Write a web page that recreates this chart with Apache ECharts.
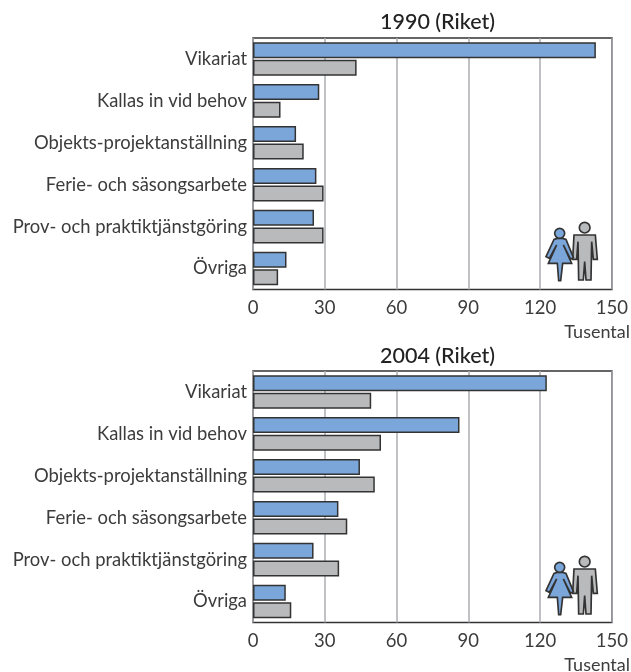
<!DOCTYPE html>
<html>
<head>
<meta charset="utf-8">
<style>
  html, body { margin: 0; padding: 0; background: #fff; }
  #chart { width: 631px; height: 672px; }
</style>
</head>
<body>
<div id="chart"></div>
<script src="https://cdn.jsdelivr.net/npm/echarts@6/dist/echarts.min.js"></script>
<script>
const categories = ['Vikariat', 'Kallas in vid behov', 'Objekts-projektanställning', 'Ferie- och säsongsarbete', 'Prov- och praktiktjänstgöring', 'Övriga']
const xTicks = [0, 30, 60, 90, 120, 150]

const women1990 = [143.3, 27.7, 18, 26.5, 25.5, 14]
const men1990 = [43.3, 11.5, 21.2, 29.5, 29.5, 10.5]
const women2004 = [122.8, 86.3, 44.7, 35.7, 25.3, 13.7]
const men2004 = [49.4, 53.5, 50.9, 39.4, 36, 16]

const FONT = 'Lato, sans-serif'
const TEXT = '#3c3c3c'
const BLUE = '#7ba6da'
const GREY = '#b9babc'
const EDGE = '#333'

const chart = echarts.init(document.getElementById('chart'))

const makeXAxis = (gridIndex) => ({
  type: 'value',
  gridIndex,
  min: 0,
  max: 150,
  interval: 30,
  axisLine: { show: false },
  axisTick: { show: false },
  axisLabel: {
    color: TEXT,
    fontFamily: FONT,
    fontSize: 18.5,
    margin: 9,
    formatter: (v) => (xTicks.includes(v) ? String(v) : '')
  },
  splitLine: { lineStyle: { color: '#aaadb0', width: 1.5 } }
})

const makeYAxis = (gridIndex) => ({
  type: 'category',
  gridIndex,
  inverse: true,
  data: categories,
  axisLine: { show: false },
  axisTick: { show: false },
  axisLabel: { color: TEXT, fontFamily: FONT, fontSize: 18.4, margin: 6 }
})

const makeBar = (name, data, color, axisIndex) => ({
  name,
  type: 'bar',
  xAxisIndex: axisIndex,
  yAxisIndex: axisIndex,
  data,
  barWidth: 16,
  barGap: '10%',
  itemStyle: { color, borderColor: EDGE, borderWidth: 1.5 },
  silent: true
})

// figurerna ritas i egna koordinater, skalas ner med 1/3
const womanPoints = [[232, 115], [248, 115], [258, 118], [280, 172], [272, 178], [250, 135], [275, 190], [248, 190], [242, 242], [236, 242], [232, 190], [205, 190], [230, 135], [208, 175], [198, 170], [222, 118]]
const manPoints = [[282, 105], [346, 105], [352, 178], [340, 178], [335, 125], [333, 240], [318, 240], [314, 185], [310, 240], [296, 240], [294, 125], [290, 178], [278, 178]]

const makeIcon = (y) => ({
  type: 'group',
  x: 480,
  y,
  scaleX: 1 / 3,
  scaleY: 1 / 3,
  silent: true,
  children: [
    { type: 'polygon', shape: { points: manPoints }, style: { fill: GREY, stroke: EDGE, lineWidth: 5 } },
    { type: 'circle', shape: { cx: 314, cy: 83, r: 16 }, style: { fill: GREY, stroke: EDGE, lineWidth: 5 } },
    { type: 'polygon', shape: { points: womanPoints }, style: { fill: BLUE, stroke: EDGE, lineWidth: 5 } },
    { type: 'circle', shape: { cx: 239, cy: 100, r: 15 }, style: { fill: BLUE, stroke: EDGE, lineWidth: 5 } }
  ]
})

const makeNote = (y) => ({
  type: 'text',
  right: 1,
  top: y,
  style: { text: 'Tusental', fill: TEXT, font: '18px ' + FONT },
  silent: true
})

const titleStyle = { color: '#222', fontFamily: FONT, fontSize: 21.5, fontWeight: 500 }

chart.setOption({
  animation: false,
  title: [
    { text: '1990 (Riket)', left: 432.5, top: 6, textAlign: 'center', textStyle: titleStyle },
    { text: '2004 (Riket)', left: 432.5, top: 340, textAlign: 'center', textStyle: titleStyle }
  ],
  grid: [
    { left: 253, right: 16.5, top: 38, height: 251.5, show: true, borderColor: EDGE, borderWidth: 1.5, backgroundColor: 'transparent' },
    { left: 253, right: 16.5, top: 371, height: 251.5, show: true, borderColor: EDGE, borderWidth: 1.5, backgroundColor: 'transparent' }
  ],
  xAxis: [makeXAxis(0), makeXAxis(1)],
  yAxis: [makeYAxis(0), makeYAxis(1)],
  series: [
    makeBar('Kvinnor', women1990, BLUE, 0),
    makeBar('Män', men1990, GREY, 0),
    makeBar('Kvinnor', women2004, BLUE, 1),
    makeBar('Män', men2004, GREY, 1)
  ],
  graphic: [makeIcon(200), makeIcon(534), makeNote(323.5), makeNote(656.5)]
})
</script>
</body>
</html>
